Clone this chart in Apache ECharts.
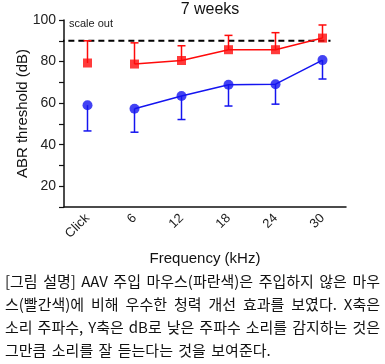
<!DOCTYPE html>
<html><head><meta charset="utf-8">
<script src="https://cdn.jsdelivr.net/npm/echarts@6/dist/echarts.min.js"></script>
<style>html,body{margin:0;padding:0;background:#fff}#c{width:385px;height:364px}</style>
</head><body><div id="c"></div>
<script>
var categories = ['Click','6','12','18','24','30'];
var redMean = [79.3, 78.8, 80.5, 85.7, 85.7, 91.3];
var redUpper = [90.0, 89.0, 87.6, 92.6, 93.9, 97.6];
var blueMean = [59.0, 57.3, 63.4, 68.8, 69.1, 80.7];
var blueLower = [46.6, 46.0, 52.1, 58.6, 59.5, 71.6];
var cutoff = 90;
var cutoffSpan = [-0.62, 5.17];
var yTicks = [20, 40, 60, 80, 100];
var captionLines = [
  '[그림 설명] AAV 주입 마우스(파란색)은 주입하지 않은 마우',
  '스(빨간색)에 비해 우수한 청력 개선 효과를 보였다. X축은',
  '소리 주파수, Y축은 dB로 낮은 주파수 소리를 감지하는 것은',
  '그만큼 소리를 잘 듣는다는 것을 보여준다.'
];

var chart = echarts.init(document.getElementById('c'));
var RED = '#ff0a0a', BLUE = '#1414f0';
function lineData(arr){ return arr.map(function(v,i){ return i===0 ? '-' : v; }); }
function errItem(color){
  return function(params, api){
    var x = api.value(0), a = api.value(1), b = api.value(2);
    var p1 = api.coord([x, a]), p2 = api.coord([x, b]);
    var w = 4;
    return {type:'group', children:[
      {type:'line', shape:{x1:p1[0],y1:p1[1],x2:p2[0],y2:p2[1]}, style:{stroke:color, lineWidth:1.5}},
      {type:'line', shape:{x1:p2[0]-w,y1:p2[1],x2:p2[0]+w,y2:p2[1]}, style:{stroke:color, lineWidth:1.5}}
    ]};
  };
}
// justified caption layout
var capFont = '15px "Noto Sans CJK KR"';
var ctx = document.createElement('canvas').getContext('2d');
ctx.font = capFont;
var capLeft = 5, capRight = 380;
var captionGraphics = [];
captionLines.forEach(function(t, i){
  var top = 274 + i*23;
  var words = t.split(' ');
  var last = i === captionLines.length - 1;
  var total = 0;
  words.forEach(function(w){ total += ctx.measureText(w).width; });
  var gap = last ? ctx.measureText(' ').width * 1.6 : (capRight - capLeft - total) / (words.length - 1);
  var x = capLeft;
  words.forEach(function(w){
    captionGraphics.push({type:'text', x:x, y:top, style:{text:w, font:capFont, fill:'#111'}});
    x += ctx.measureText(w).width + gap;
  });
});
chart.setOption({
  animation:false,
  title:{text:'7 weeks', left:205, top:-3, textAlign:'center',
    textStyle:{fontFamily:'Liberation Sans', fontSize:16, fontWeight:'normal', color:'#111'}},
  grid:{left:64, right:39, top:20, bottom:157, containLabel:false, outerBoundsMode:'none'},
  xAxis:[{type:'category', data:categories,
    axisLine:{lineStyle:{color:'#111', width:1.5}},
    axisTick:{alignWithLabel:true, length:5, lineStyle:{color:'#111', width:1.2}},
    axisLabel:{rotate:45, color:'#222', fontFamily:'Liberation Sans', fontSize:13, margin:9},
    name:'Frequency (kHz)', nameLocation:'middle', nameGap:44, nameMoveOverlap:false,
    nameTextStyle:{fontFamily:'Liberation Sans', fontSize:15, color:'#111'}},
   {type:'value', min:-0.5, max:5.5, show:false}],
  yAxis:{type:'value', min:10, max:100, interval:10,
    axisLine:{show:true, onZero:false, lineStyle:{color:'#111', width:1.5}},
    axisTick:{show:true, length:5, lineStyle:{color:'#111', width:1.2}},
    splitLine:{show:false},
    axisLabel:{color:'#222', fontFamily:'Liberation Sans', fontSize:14, margin:8,
      formatter:function(v){ return yTicks.indexOf(v) >= 0 ? String(v) : ''; }},
    name:'ABR threshold (dB)', nameLocation:'middle', nameGap:34, nameMoveOverlap:false,
    nameTextStyle:{fontFamily:'Liberation Sans', fontSize:15, color:'#111'}},
  graphic:[{type:'text', left:69, top:18, style:{text:'scale out', font:'11px Liberation Sans', fill:'#222'}}].concat(captionGraphics),
  series:[
    {type:'line', xAxisIndex:1, data:[[cutoffSpan[0],cutoff],[cutoffSpan[1],cutoff]], symbol:'none', clip:false,
      lineStyle:{color:'#000', width:2, type:[6,4]}, z:1, silent:true},
    {type:'custom', renderItem:errItem(RED), data:redMean.map(function(v,i){return [i,v,redUpper[i]];}), z:2},
    {type:'custom', renderItem:errItem(BLUE), data:blueMean.map(function(v,i){return [i,v,blueLower[i]];}), z:2},
    {type:'line', data:lineData(redMean), symbol:'none', lineStyle:{color:RED, width:1.5}, z:3},
    {type:'line', data:lineData(blueMean), symbol:'none', lineStyle:{color:BLUE, width:1.5}, z:3},
    {type:'scatter', data:redMean, symbol:'rect', symbolSize:9, itemStyle:{color:RED}, z:4},
    {type:'scatter', data:blueMean, symbol:'circle', symbolSize:10, itemStyle:{color:BLUE}, z:4}
  ]
});
</script></body></html>
